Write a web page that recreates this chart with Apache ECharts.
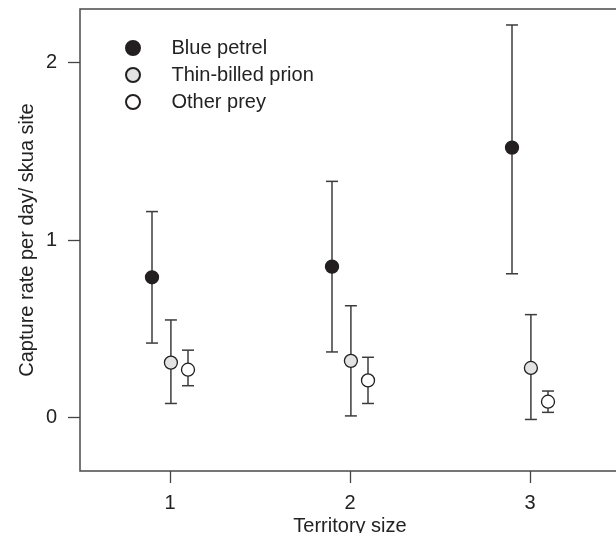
<!DOCTYPE html>
<html lang="en">
<head>
    <meta charset="utf-8">
    <title>Capture rate by territory size</title>
    <script src="https://cdn.jsdelivr.net/npm/echarts@6/dist/echarts.min.js"></script>
    <style>
        html, body { margin: 0; padding: 0; background: #fff; }
        #chart { width: 616px; height: 533px; }
    </style>
</head>
<body>
<div id="chart"></div>
<script>
    // territory size categories and tick marks
    var territory = [1, 2, 3];
    var xTicks = [1, 2, 3];
    var yTicks = [0, 1, 2];

    // blue petrel
    var petrelMean = [0.79, 0.85, 1.52];
    var petrelLow = [0.42, 0.37, 0.81];
    var petrelHigh = [1.16, 1.33, 2.21];

    // thin-billed prion
    var prionMean = [0.31, 0.32, 0.28];
    var prionLow = [0.08, 0.01, -0.01];
    var prionHigh = [0.55, 0.63, 0.58];

    // other prey
    var otherMean = [0.27, 0.21, 0.09];
    var otherLow = [0.18, 0.08, 0.03];
    var otherHigh = [0.38, 0.34, 0.15];

    var font = 'Liberation Sans, Arial, sans-serif';
    var ink = '#231f20';
    var lineCol = '#3c3c3c';

    // dodge each group a little so the bars do not overlap
    function points(mean, shift) {
        return territory.map(function (t, i) { return [t + shift, mean[i]]; });
    }
    function bars(low, high, shift) {
        return territory.map(function (t, i) { return [t + shift, low[i], high[i]]; });
    }

    function renderBar(params, api) {
        var x = api.value(0);
        var top = api.coord([x, api.value(2)]);
        var bot = api.coord([x, api.value(1)]);
        var hw = 6;
        var style = { stroke: lineCol, lineWidth: 1.5 };
        return {
            type: 'group',
            children: [
                {type: 'line', shape: {x1: top[0], y1: top[1], x2: bot[0], y2: bot[1]}, style: style},
                {type: 'line', shape: {x1: top[0] - hw, y1: top[1], x2: top[0] + hw, y2: top[1]}, style: style},
                {type: 'line', shape: {x1: bot[0] - hw, y1: bot[1], x2: bot[0] + hw, y2: bot[1]}, style: style}
            ]
        };
    }

    function errSeries(low, high, shift) {
        return {
            type: 'custom',
            renderItem: renderBar,
            data: bars(low, high, shift),
            encode: {x: 0, y: [1, 2]},
            z: 2,
            silent: true
        };
    }

    function dotSeries(name, mean, shift, fill) {
        return {
            name: name,
            type: 'scatter',
            data: points(mean, shift),
            symbol: 'circle',
            symbolSize: 13,
            itemStyle: {color: fill, borderColor: ink, borderWidth: 1.3, opacity: 1},
            z: 3
        };
    }

    var chart = echarts.init(document.getElementById('chart'));
    var option = {
        animation: false,
        backgroundColor: '#fff',
        textStyle: {fontFamily: font},
        grid: {
            left: 80, top: 9, width: 540, height: 462,
            containLabel: false,
            outerBoundsMode: 'none',
            show: true, borderColor: '#4a4a4a', borderWidth: 1.5
        },
        legend: {
            orient: 'vertical',
            left: 120, top: 33,
            itemWidth: 67, itemHeight: 14, itemGap: 7,
            icon: 'circle',
            textStyle: {fontSize: 20, color: '#222', fontFamily: font, lineHeight: 20},
            data: ['Blue petrel', 'Thin-billed prion', 'Other prey']
        },
        xAxis: {
            type: 'value',
            min: 0.5, max: 3.5,
            name: 'Territory size',
            nameLocation: 'middle',
            nameGap: 45,
            nameMoveOverlap: false,
            nameTextStyle: {fontSize: 20, color: '#222', fontFamily: font},
            axisLine: {show: false, onZero: false},
            axisTick: {show: true, customValues: xTicks, length: 12, lineStyle: {color: '#444', width: 1.3}},
            axisLabel: {customValues: xTicks, fontSize: 20, color: '#222', margin: 22, fontFamily: font},
            splitLine: {show: false}
        },
        yAxis: {
            type: 'value',
            min: -0.3, max: 2.3,
            name: 'Capture rate per day/ skua site',
            nameLocation: 'middle',
            nameGap: 43,
            nameMoveOverlap: false,
            nameTextStyle: {fontSize: 20, color: '#222', fontFamily: font},
            axisLine: {show: false, onZero: false},
            axisTick: {show: true, customValues: yTicks, length: 12, lineStyle: {color: '#444', width: 1.3}},
            axisLabel: {customValues: yTicks, fontSize: 20, color: '#222', margin: 23, fontFamily: font},
            splitLine: {show: false}
        },
        series: [
            errSeries(petrelLow, petrelHigh, -0.1),
            errSeries(prionLow, prionHigh, 0.005),
            errSeries(otherLow, otherHigh, 0.1),
            dotSeries('Blue petrel', petrelMean, -0.1, ink),
            dotSeries('Thin-billed prion', prionMean, 0.005, '#e2e3e3'),
            dotSeries('Other prey', otherMean, 0.1, '#ffffff')
        ]
    };
    chart.setOption(option);
</script>
</body>
</html>
